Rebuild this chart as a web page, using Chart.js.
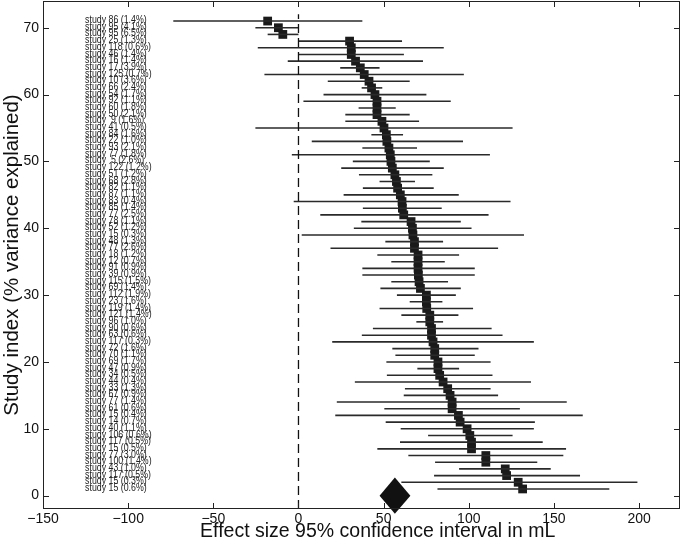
<!DOCTYPE html>
<html>
<head>
<meta charset="utf-8">
<script src="https://cdn.jsdelivr.net/npm/chart.js@4.4.0/dist/chart.umd.min.js"></script>
<style>
  html, body { margin: 0; padding: 0; background: #fff; }
  #wrap { width: 683px; height: 541px; }
</style>
</head>
<body>
<div id="wrap"><canvas id="myChart" width="683" height="541"></canvas></div>
<script>
// studies, top to bottom
var studyIds = [86, 95, 95, 25, 118, 46, 16, 17, 125, 10, 66, 54, 92, 60, 50, 9, 41, 84, 22, 93,
    77, 5, 122, 51, 68, 82, 87, 83, 85, 77, 78, 52, 15, 48, 77, 18, 12, 91, 39, 115,
    69, 112, 23, 119, 121, 96, 90, 63, 117, 72, 70, 69, 47, 34, 44, 33, 67, 77, 61, 15,
    14, 40, 106, 117, 15, 77, 100, 43, 117, 15, 15];
var weights = ['1.4', '4.1', '6.5', '1.3', '0.6', '1.4', '1.4', '3.9', '0.7', '3.6', '2.4', '1.7', '1.1', '1.8', '2.1', '1.6', '0.5', '1.6', '1.0', '2.1',
    '1.8', '2.6', '1.2', '1.2', '2.8', '1.1', '1.1', '0.4', '1.4', '2.5', '1.1', '1.2', '0.3', '1.3', '2.6', '1.2', '0.7', '0.9', '0.9', '1.5',
    '1.4', '1.9', '1.6', '1.4', '1.4', '1.0', '0.6', '0.6', '0.3', '1.6', '1.1', '1.7', '0.9', '0.5', '0.4', '1.3', '0.9', '1.4', '0.6', '0.4',
    '0.7', '1.1', '0.6', '0.5', '0.5', '3.0', '1.4', '1.0', '0.5', '0.3', '0.6'];
var effect = [-18.1, -11.8, -9.2, 30, 31, 31, 33.5, 36.3, 38.6, 41.4, 42.9, 44.9, 46.1, 46.1, 46.1, 49, 50.2, 51.6, 51.9, 53.1,
    53.9, 54.3, 55.1, 56.6, 57.5, 58.2, 59.8, 60.8, 61, 61.8, 66.1, 66.9, 67.2, 68.1, 68.1, 70.2, 70.2, 70.2, 70.4, 70.8,
    71.6, 75.1, 75.1, 75.3, 77.1, 77.1, 78.1, 78.1, 79, 80, 80, 81.9, 81.9, 82.9, 84.9, 87.6, 89, 90.2, 90.2, 93.9,
    94.9, 99, 100.6, 101.6, 101.6, 110, 110, 121.4, 122.2, 129, 131.6];
var lower = [-73.5, -25.3, -18.1, 0, -23.9, 0, -6.3, 24.5, -20, 17.2, 37.1, 14.7, 2.9, 35.3, 27.5, 27.5, -25.3, 42.8, 7.8, 37.5,
    -3.9, 31.9, 25.1, 35.5, 47.6, 37.8, 26.5, -2.8, 37.8, 12.8, 36.9, 32.5, 1.9, 51, 18.8, 46.3, 54.5, 37.5, 37.5, 54.5,
    48.1, 57.8, 65.3, 47.6, 60.4, 69.2, 43.7, 37.2, 19.8, 55.1, 56.9, 51.6, 69.8, 51.9, 33.1, 62.5, 61.8, 22.5, 50.4, 21.6,
    51.2, 60, 76.1, 59.6, 46.3, 64.5, 80.2, 94.3, 79.6, 60.4, 81.6];
var upper = [37.5, 0, 0, 60.8, 85.3, 61.9, 73.1, 47.6, 97.1, 65.3, 49.2, 75.1, 89.4, 57.1, 65.3, 70.8, 125.7, 61.4, 96.6, 69.6,
    112.4, 77.1, 85.3, 78.6, 68.4, 79.4, 94.1, 124.5, 84.1, 111.6, 95.3, 101.6, 132.4, 84.9, 117.2, 94.3, 85.9, 103.5, 103.5, 87.8,
    95.3, 92.4, 84.5, 102.5, 93.9, 84.9, 113.4, 119.8, 138.2, 105.7, 103.5, 112.8, 94.3, 113.9, 136.5, 112.8, 117.2, 157.5, 130, 166.9,
    138.8, 138.2, 125.7, 143.4, 157.1, 155.5, 140.2, 148.1, 165.3, 199, 182.5];
// pooled estimate (diamond)
var pooled = 56.6;
var pooledLower = 47.6;
var pooledUpper = 65.7;
var xTicks = [-150, -100, -50, 0, 50, 100, 150, 200];
var yTicks = [0, 10, 20, 30, 40, 50, 60, 70];
var xTitle = 'Effect size 95% confidence interval in mL';

var n = studyIds.length;
var rowY = studyIds.map(function(id, i) { return n - i; });
var labels = studyIds.map(function(id, i) {
    return 'study ' + (id < 10 ? ' ' : '') + id + ' (' + weights[i] + '%)';
});

var datasets = [];
// zero line
datasets.push({
    type: 'line',
    data: [{x: 0, y: -2}, {x: 0, y: 72}],
    borderColor: '#111',
    borderWidth: 1.3,
    borderDash: [9, 5],
    pointRadius: 0
});
// confidence intervals
studyIds.forEach(function(id, i) {
    datasets.push({
        type: 'line',
        data: [{x: lower[i], y: rowY[i]}, {x: upper[i], y: rowY[i]}],
        borderColor: '#2a2a2a',
        borderWidth: 1.6,
        pointRadius: 0
    });
});
// point estimates
datasets.push({
    type: 'scatter',
    data: effect.map(function(v, i) { return {x: v, y: rowY[i]}; }),
    pointStyle: 'rect',
    pointRadius: 6.2,
    backgroundColor: '#1a1a1a',
    borderWidth: 0
});

var forestPlugin = {
    id: 'forest',
    afterDatasetsDraw: function(chart) {
        var ctx = chart.ctx;
        var xs = chart.scales.x, ys = chart.scales.y;
        var area = chart.chartArea;
        ctx.save();
        // diamond
        ctx.fillStyle = '#111';
        ctx.beginPath();
        ctx.moveTo(xs.getPixelForValue(pooledLower), ys.getPixelForValue(0));
        ctx.lineTo(xs.getPixelForValue(pooled), ys.getPixelForValue(2.7));
        ctx.lineTo(xs.getPixelForValue(pooledUpper), ys.getPixelForValue(0));
        ctx.lineTo(xs.getPixelForValue(pooled), ys.getPixelForValue(-2.7));
        ctx.closePath();
        ctx.fill();
        // study labels
        ctx.fillStyle = '#222';
        ctx.font = '11px "Liberation Sans", Arial, sans-serif';
        ctx.textBaseline = 'middle';
        labels.forEach(function(t, i) {
            ctx.save();
            ctx.translate(xs.getPixelForValue(-125.3), ys.getPixelForValue(rowY[i]) - 1);
            ctx.scale(0.8, 1);
            ctx.fillText(t, 0, 0);
            ctx.restore();
        });
        // frame and inward ticks
        ctx.strokeStyle = '#222';
        ctx.lineWidth = 1;
        ctx.strokeRect(area.left + 0.5, area.top + 0.5, area.right - area.left - 1, area.bottom - area.top - 1);
        ctx.beginPath();
        xTicks.forEach(function(v) {
            var px = Math.round(xs.getPixelForValue(v)) + 0.5;
            ctx.moveTo(px, area.bottom); ctx.lineTo(px, area.bottom - 6);
            ctx.moveTo(px, area.top); ctx.lineTo(px, area.top + 6);
        });
        yTicks.forEach(function(v) {
            var py = Math.round(ys.getPixelForValue(v)) + 0.5;
            ctx.moveTo(area.left, py); ctx.lineTo(area.left + 6, py);
            ctx.moveTo(area.right, py); ctx.lineTo(area.right - 6, py);
        });
        ctx.stroke();
        // x axis title (sits a little right of centre in the original)
        ctx.fillStyle = '#111';
        ctx.font = '19.5px "Liberation Sans", Arial, sans-serif';
        ctx.textAlign = 'center';
        ctx.textBaseline = 'alphabetic';
        ctx.fillText(xTitle, xs.getPixelForValue(46.5), chart.height - 4);
        ctx.restore();
    }
};

var ctx = document.getElementById('myChart').getContext('2d');
var myChart = new Chart(ctx, {
    type: 'scatter',
    data: { datasets: datasets },
    options: {
        responsive: false,
        animation: false,
        events: [],
        plugins: {
            legend: { display: false },
            tooltip: { enabled: false }
        },
        layout: {
            autoPadding: false,
            padding: { top: 1, right: 3, left: 0, bottom: 0 }
        },
        scales: {
            x: {
                type: 'linear',
                min: -150,
                max: 224,
                afterBuildTicks: function(scale) {
                    scale.ticks = xTicks.map(function(v) { return {value: v}; });
                },
                afterFit: function(scale) {
                    scale.height = 32;
                    scale.paddingLeft = 0;
                    scale.paddingRight = 0;
                },
                grid: { display: false, drawTicks: false },
                border: { display: false },
                ticks: {
                    color: '#111',
                    padding: 2,
                    font: { family: '"Liberation Sans", Arial, sans-serif', size: 14 },
                    callback: function(v) { return String(v).replace('-', '\u2212'); }
                },
                title: { display: false }
            },
            y: {
                type: 'linear',
                min: -2,
                max: 74,
                afterBuildTicks: function(scale) {
                    scale.ticks = yTicks.map(function(v) { return {value: v}; });
                },
                afterFit: function(scale) {
                    scale.width = 43;
                    scale.paddingTop = 0;
                    scale.paddingBottom = 0;
                },
                grid: { display: false, drawTicks: false },
                border: { display: false },
                ticks: {
                    color: '#111',
                    padding: 4,
                    font: { family: '"Liberation Sans", Arial, sans-serif', size: 14 }
                },
                title: {
                    display: true,
                    text: 'Study index (% variance explained)',
                    color: '#111',
                    padding: 0,
                    font: { family: '"Liberation Sans", Arial, sans-serif', size: 20.5 }
                }
            }
        }
    },
    plugins: [forestPlugin]
});
</script>
</body>
</html>
